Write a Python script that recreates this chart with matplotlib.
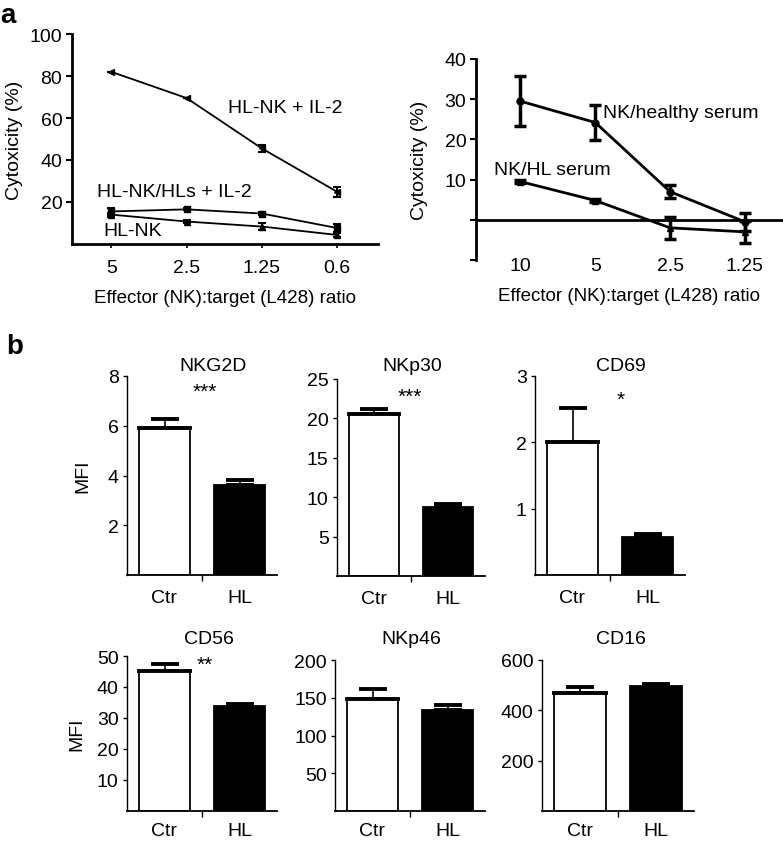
import numpy as np
import matplotlib.pyplot as plt

plt.rcParams['font.family'] = ['Liberation Sans', 'DejaVu Sans']

W, H = 783, 845
FS = 14

# panel a, left
ratios_left = ['5', '2.5', '1.25', '0.6']
hlnk_il2 = [82, 69.5, 45.5, 24.8]
hlnk_il2_err = [0, 0, 1.8, 2.2]
hlnk_hls_il2 = [15.5, 16.5, 14.5, 7.6]
hlnk_hls_il2_err = [1.8, 0.5, 0.6, 1.8]
hlnk = [14, 10.7, 8.3, 4.3]
hlnk_err = [1.0, 0.5, 1.5, 1.0]

# panel a, right
ratios_right = ['10', '5', '2.5', '1.25']
healthy = [29.5, 24.2, 7.0, -0.5]
healthy_err = [6.2, 4.4, 1.7, 2.3]
hl_serum = [9.5, 4.8, -2.0, -3.0]
hl_serum_err = [0.3, 0.3, 2.75, 2.7]

# panel b
groups = ['Ctr', 'HL']
markers_b = ['NKG2D', 'NKp30', 'CD69', 'CD56', 'NKp46', 'CD16']
mfi_ctr = [5.92, 20.5, 2.0, 45.3, 149, 467]
mfi_ctr_err = [0.35, 0.7, 0.52, 2.2, 12, 26]
mfi_hl = [3.62, 8.7, 0.57, 34.0, 134, 498]
mfi_hl_err = [0.21, 0.45, 0.05, 0.5, 7, 5]
stars = ['***', '***', '*', '**', '', '']
ymax_b = [8, 25, 3, 50, 200, 600]
yticks_b = [[2, 4, 6, 8], [5, 10, 15, 20, 25], [1, 2, 3],
            [10, 20, 30, 40, 50], [50, 100, 150, 200], [200, 400, 600]]


def rect(l, t, r, b):
    return [l / W, 1 - b / H, (r - l) / W, (b - t) / H]


fig = plt.figure(figsize=(W / 100, H / 100), dpi=100)

# ---- a left
ax = fig.add_axes(rect(72, 35, 378, 245))
x = np.arange(len(ratios_left))
for vals, errs, mk in [(hlnk_il2, hlnk_il2_err, '<'),
                       (hlnk_hls_il2, hlnk_hls_il2_err, 's'),
                       (hlnk, hlnk_err, '^')]:
    ax.errorbar(x, vals, yerr=errs, color='black', lw=1.3, marker=mk,
                ms=4, capsize=3, capthick=1.5, elinewidth=1.5)
ax.set_xlim(-0.52, 3.54)
ax.set_ylim(0, 100)
ax.set_yticks([20, 40, 60, 80, 100])
ax.set_xticks(x)
ax.set_xticklabels(ratios_left)
ax.spines[['top', 'right']].set_visible(False)
ax.spines['left'].set_linewidth(2)
ax.spines['bottom'].set_linewidth(2)
ax.tick_params(axis='y', labelsize=FS, length=4, width=1.5, pad=3)
ax.tick_params(axis='x', labelsize=FS, length=3, width=1.2, pad=8)
ax.set_ylabel('Cytoxicity (%)', fontsize=FS, labelpad=5)
ax.set_xlabel('Effector (NK):target (L428) ratio', fontsize=13.5, labelpad=9)
ax.text(1.55, 65, 'HL-NK + IL-2', fontsize=FS, va='center')
ax.text(-0.19, 24.8, 'HL-NK/HLs + IL-2', fontsize=FS, va='center')
ax.text(-0.11, 6.2, 'HL-NK', fontsize=FS, va='center')
fig.text(0 / W, 1 - 16 / H, 'a', fontsize=20, fontweight='bold', va='center')

# ---- a right
ax = fig.add_axes(rect(476, 60, 783, 261))
x = np.arange(len(ratios_right))
ax.axhline(0, color='black', lw=2)
ax.errorbar(x, healthy, yerr=healthy_err, color='black', lw=2, marker='o',
            ms=5, capsize=4, capthick=2.5, elinewidth=2.5)
ax.errorbar(x, hl_serum, yerr=hl_serum_err, color='black', lw=2, marker='^',
            ms=5, capsize=4, capthick=2.5, elinewidth=2.5)
ax.set_xlim(-0.595, 3.51)
ax.set_ylim(-10, 40)
ax.set_yticks([-10, 0, 10, 20, 30, 40])
ax.set_yticklabels(['', '', '10', '20', '30', '40'])
ax.set_xticks(x)
ax.set_xticklabels(ratios_right)
for s in ['top', 'right', 'bottom']:
    ax.spines[s].set_visible(False)
ax.spines['left'].set_linewidth(2)
ax.tick_params(axis='y', labelsize=FS, length=4, width=1.5, pad=3)
ax.tick_params(axis='x', labelsize=FS, length=0, pad=-2)
ax.set_ylabel('Cytoxicity (%)', fontsize=FS, labelpad=12)
ax.set_xlabel('Effector (NK):target (L428) ratio', fontsize=13.5, labelpad=9)
ax.text(1.1, 26.8, 'NK/healthy serum', fontsize=FS, va='center')
ax.text(-0.36, 12.5, 'NK/HL serum', fontsize=FS, va='center')
fig.text(6 / W, 1 - 347 / H, 'b', fontsize=20, fontweight='bold', va='center')

# ---- b bars
boxes = [(127, 377, 277, 576), (337, 380, 485, 577), (535, 377, 685, 576),
         (127, 657, 277, 812), (335, 661, 485, 812), (542, 661, 694, 812)]
title_xy = [(213, 367), (412, 367), (621, 367), (209, 640), (411, 640), (621, 640)]
star_xy = [(205, 398), (410, 403), (621, 406), (205, 671), (0, 0), (0, 0)]
for i, name in enumerate(markers_b):
    ax = fig.add_axes(rect(*boxes[i]))
    xb = np.arange(2)
    ax.bar(xb, [mfi_ctr[i], mfi_hl[i]], width=0.68, color=['white', 'black'],
           edgecolor='black', linewidth=1.3, zorder=2)
    ax.errorbar(xb, [mfi_ctr[i], mfi_hl[i]],
                yerr=[[0, 0], [mfi_ctr_err[i], mfi_hl_err[i]]],
                fmt='none', ecolor='black', elinewidth=1.2, capsize=10,
                capthick=2.8, zorder=1)
    ax.plot([-0.34, 0.34], [mfi_ctr[i]] * 2, color='black', lw=2.8, zorder=3)
    ax.set_xlim(-0.5, 1.5)
    ax.set_ylim(0, ymax_b[i])
    ax.set_yticks(yticks_b[i])
    ax.set_xticks([0.5])
    ax.set_xticklabels([''])
    for j, g in enumerate(groups):
        ax.text(j, -0.07 * ymax_b[i], g, ha='center', va='top', fontsize=FS)
    ax.spines[['top', 'right']].set_visible(False)
    ax.spines['left'].set_linewidth(1.0)
    ax.spines['bottom'].set_linewidth(1.3)
    ax.tick_params(axis='y', labelsize=FS, length=3, width=1, pad=3)
    ax.tick_params(axis='x', length=4, width=1, direction='out')
    tx, ty = title_xy[i]
    fig.text(tx / W, 1 - ty / H, name, ha='center', va='center', fontsize=FS)
    if stars[i]:
        sx, sy = star_xy[i]
        fig.text(sx / W, 1 - sy / H, stars[i], ha='center', va='baseline',
                 fontsize=15)
    if i == 0:
        ax.set_ylabel('MFI', fontsize=FS, labelpad=12)
    if i == 3:
        ax.set_ylabel('MFI', fontsize=FS, labelpad=8)

fig.savefig('out.png', dpi=100)
